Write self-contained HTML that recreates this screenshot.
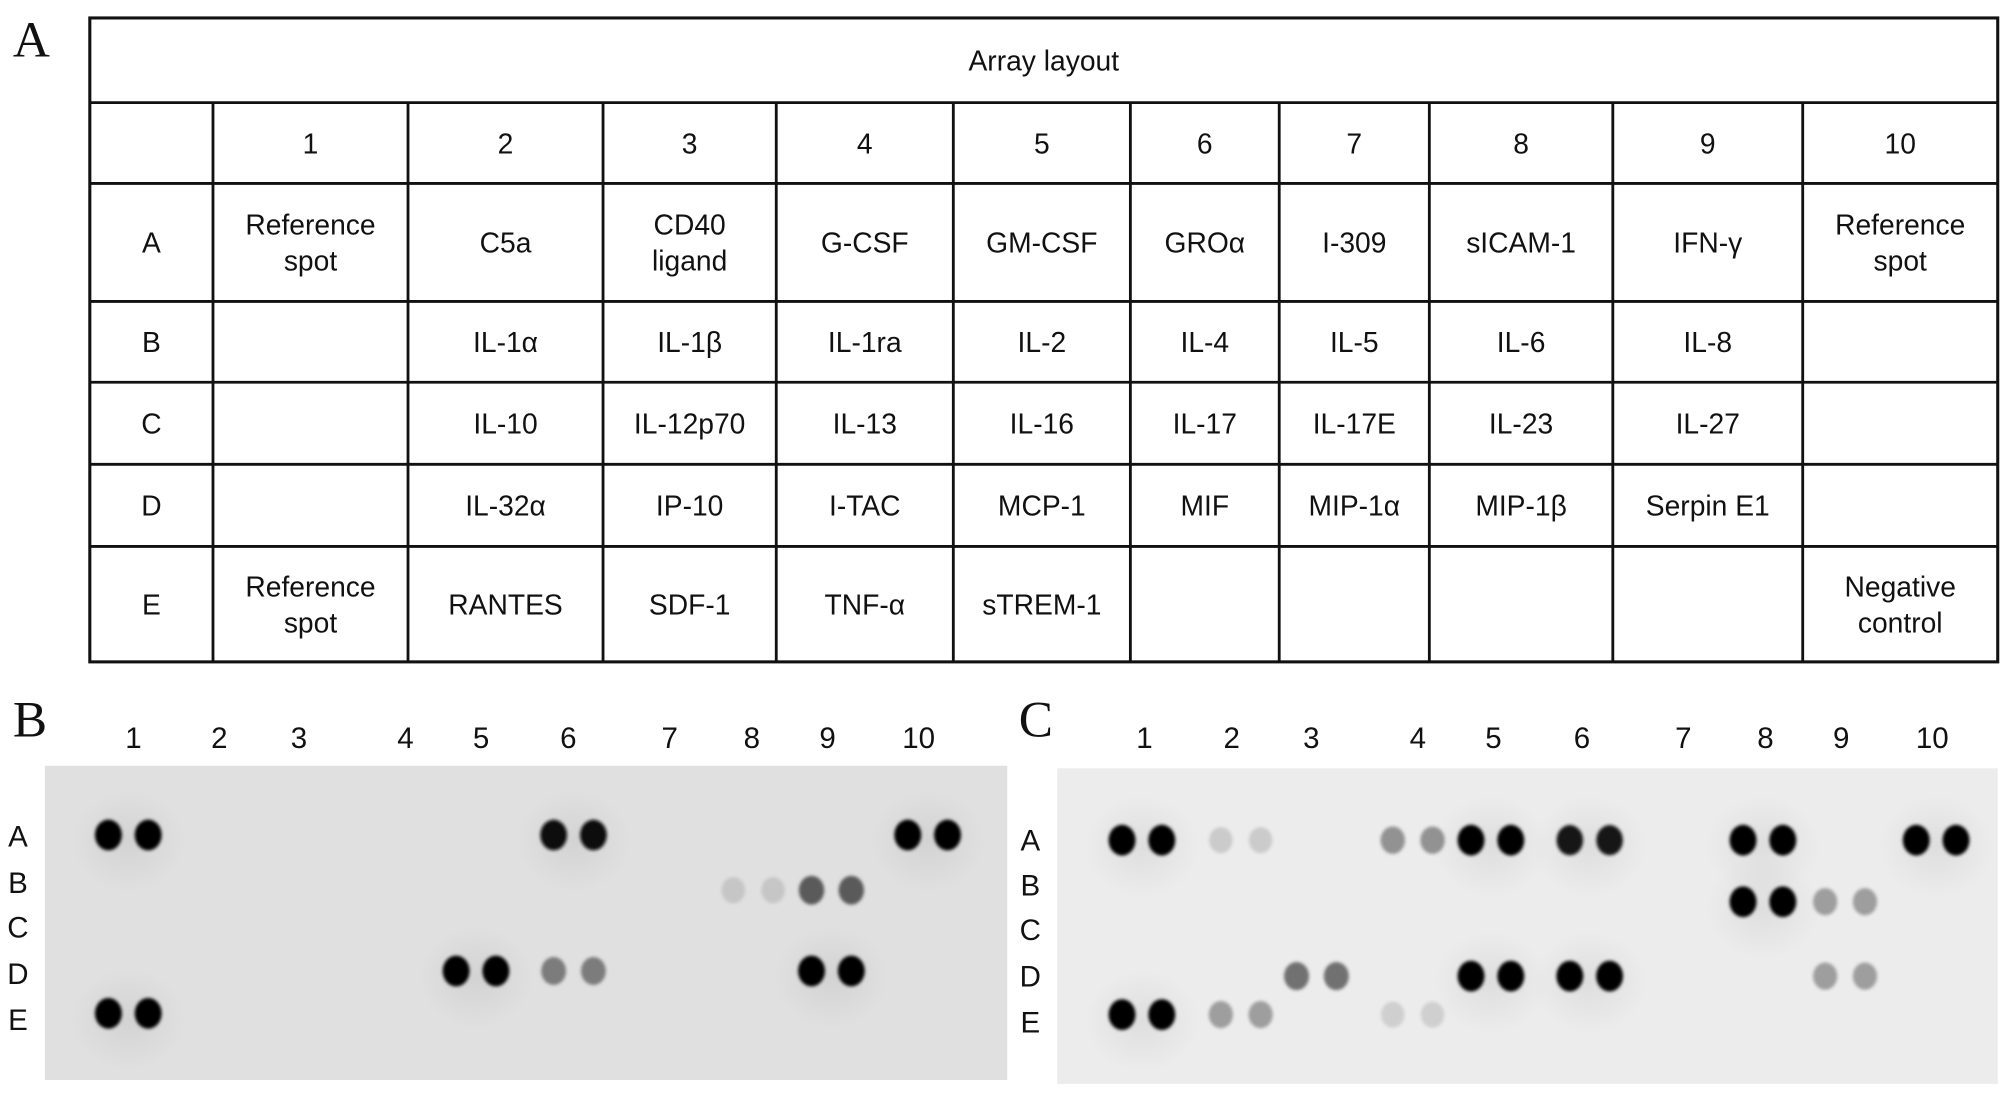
<!DOCTYPE html>
<html><head><meta charset="utf-8"><style>
html,body{margin:0;padding:0;background:#fff;width:2008px;height:1098px;overflow:hidden}
svg{display:block}
text{font-family:"Liberation Sans",sans-serif;fill:#111}
.pl{font-family:"Liberation Serif",serif;font-size:40px}
</style></head><body>
<svg id="fig" width="2008" height="1098" viewBox="0 0 1565 856" preserveAspectRatio="none" xmlns="http://www.w3.org/2000/svg">
<defs>
<filter id="blur" x="-50%" y="-50%" width="200%" height="200%"><feGaussianBlur stdDeviation="1.2"/></filter>
<radialGradient id="halo"><stop offset="0" stop-color="#000" stop-opacity="0.06"/><stop offset="1" stop-color="#000" stop-opacity="0"/></radialGradient>
</defs>
<text class="pl" x="10" y="44">A</text>
<text class="pl" x="10" y="574">B</text>
<text class="pl" x="794" y="574">C</text>
<g id="table"></g>
<rect x="35" y="597" width="750" height="245" fill="#e0e0e0"/>
<rect x="824" y="599" width="733" height="246" fill="#ececec"/>
<g id="blotB"></g>
<g id="blotC"></g>
</svg>
<script>
const NS='http://www.w3.org/2000/svg';
const colEdges=[70,166,318,470,605,743,881,997,1114,1257,1405,1557];
const rowEdges=[14,80,143,235,298,362,426,516];
const colHeads=['1','2','3','4','5','6','7','8','9','10'];
const rowHeads=['A','B','C','D','E'];
const cells=[
['Reference|spot','C5a','CD40|ligand','G-CSF','GM-CSF','GROα','I-309','sICAM-1','IFN-γ','Reference|spot'],
['','IL-1α','IL-1β','IL-1ra','IL-2','IL-4','IL-5','IL-6','IL-8',''],
['','IL-10','IL-12p70','IL-13','IL-16','IL-17','IL-17E','IL-23','IL-27',''],
['','IL-32α','IP-10','I-TAC','MCP-1','MIF','MIP-1α','MIP-1β','Serpin E1',''],
['Reference|spot','RANTES','SDF-1','TNF-α','sTREM-1','','','','','Negative|control']];
// blot data: [row, col, intensity]
const blotBSpots=[['A',1,1],['A',6,0.95],['A',10,1],['B',8,0.12],['B',9,0.6],['D',5,1],['D',6,0.45],['D',9,1],['E',1,1]];
const blotCSpots=[['A',1,1],['A',2,0.1],['A',4,0.35],['A',5,1],['A',6,0.9],['A',8,1],['A',10,1],['B',8,1],['B',9,0.3],['D',3,0.5],['D',5,1],['D',6,1],['D',9,0.3],['E',1,1],['E',2,0.3],['E',4,0.08]];
const bLabelX=[104,171,233,316,375,443,522,586,645,716];
const bPairX=[100,171,233,316,371,447,522,587,648,723];
const bRowY=[651,694,723,757,790];
const bRowLabelY=[652,688,723,759,795];
const cLabelX=[892,960,1022,1105,1164,1233,1312,1376,1435,1506];
const cPairX=[890,967,1026,1101,1162,1239,1312,1374,1438,1509];
const cRowY=[655,703,732,761,791];
const cRowLabelY=[655,690,725,761,797];

function el(t,a,p){const e=document.createElementNS(NS,t);for(const k in a)e.setAttribute(k,a[k]);p.appendChild(e);return e;}
const tbl=document.getElementById('table');
const L=colEdges[0],R=colEdges[11];
el('rect',{x:L,y:rowEdges[0],width:R-L,height:rowEdges[7]-rowEdges[0],fill:'none',stroke:'#111','stroke-width':2.4},tbl);
for(let i=1;i<7;i++)el('line',{x1:L,x2:R,y1:rowEdges[i],y2:rowEdges[i],stroke:'#111','stroke-width':2.2},tbl);
for(let j=1;j<11;j++)el('line',{x1:colEdges[j],x2:colEdges[j],y1:rowEdges[1],y2:rowEdges[7],stroke:'#111','stroke-width':2.2},tbl);
function cellText(txt,cx,cy,name){
  const parts=txt.split('|');
  parts.forEach((p,k)=>{
    const t=el('text',{x:cx,y:cy+8+(k-(parts.length-1)/2)*28,'text-anchor':'middle','font-size':22},tbl);
    
    
    t.textContent=p;
  });
}
cellText('Array layout',(L+R)/2,(rowEdges[0]+rowEdges[1])/2,'table-title');
colHeads.forEach((h,j)=>cellText(h,(colEdges[j+1]+colEdges[j+2])/2,(rowEdges[1]+rowEdges[2])/2,'column-header'));
rowHeads.forEach((h,i)=>{
  const cy=(rowEdges[i+2]+rowEdges[i+3])/2;
  cellText(h,(colEdges[0]+colEdges[1])/2,cy,'row-header');
  cells[i].forEach((c,j)=>{if(c)cellText(c,(colEdges[j+1]+colEdges[j+2])/2,cy,'analyte-cell');});
});
function drawBlot(g,spots,labelX,pairX,rowY,rowLabelY,rowLabelX){
  labelX.forEach((x,j)=>{
    const t=el('text',{x:x,y:583,'text-anchor':'middle','font-size':23},g);
    
    
    t.textContent=colHeads[j];
  });
  rowHeads.forEach((h,i)=>{
    const t=el('text',{x:rowLabelX,y:rowLabelY[i]+8,'text-anchor':'middle','font-size':23},g);
    
    
    t.textContent=h;
  });
  spots.forEach(s=>{
    const ri=rowHeads.indexOf(s[0]),cx=pairX[s[1]-1],cy=rowY[ri],v=s[2];
    const g2=Math.round(225-v*225);
    const col='rgb('+g2+','+g2+','+g2+')';
    if(v>0.8){const h=el('ellipse',{cx:cx,cy:cy+5,rx:45,ry:40,fill:'url(#halo)'},g);
      
      }
    [-15.5,15.5].forEach(dx=>{
      const e=el('ellipse',{cx:cx+dx,cy:cy,rx:9+v*1.5,ry:10+v*2,fill:col,filter:'url(#blur)'},g);
      
      
    });
  });
}
drawBlot(document.getElementById('blotB'),blotBSpots,bLabelX,bPairX,bRowY,bRowLabelY,14);
drawBlot(document.getElementById('blotC'),blotCSpots,cLabelX,cPairX,cRowY,cRowLabelY,803);
</script>
</body></html>
